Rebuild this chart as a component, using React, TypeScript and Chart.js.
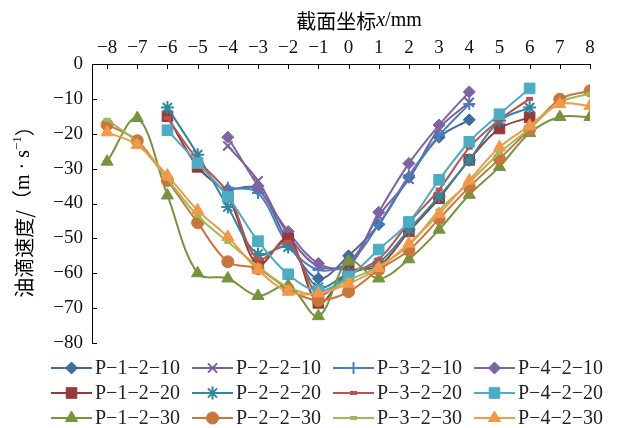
import React, { useEffect, useRef } from "react";
import { Chart, registerables } from "chart.js";
import { drawPoint } from "chart.js/helpers";

Chart.register(...registerables);

// ---------- data ----------
const xAll = [-8, -7, -6, -5, -4, -3, -2, -1, 0, 1, 2, 3, 4, 5, 6, 7, 8];
const x20 = [-6, -5, -4, -3, -2, -1, 0, 1, 2, 3, 4, 5, 6];
const x10 = [-4, -3, -2, -1, 0, 1, 2, 3, 4];

const P_1_2_10 = [-36, -36, -51, -61.5, -55, -46, -32.5, -21, -16];
const P_2_2_10 = [-23.5, -33.5, -49, -58, -57, -43.5, -33, -18.5, -11];
const P_3_2_10 = [-35.5, -37, -52, -59, -57, -46, -32, -20.5, -11.5];
const P_4_2_10 = [-21, -35, -48, -57.2, -58, -42.5, -28.5, -17.5, -8];

const P_1_2_20 = [-15, -29.5, -38, -57.5, -50, -68.5, -59.5, -58, -48, -38.5, -27.5, -18.5, -15.3];
const P_2_2_20 = [-12.5, -26, -41, -54.5, -52.5, -64, -60, -57, -47.5, -38, -27.5, -16.3, -12.5];
const P_3_2_20 = [-15.5, -27.5, -37, -56, -51, -66, -60.5, -56, -45.5, -36, -24, -16, -10];
const P_4_2_20 = [-19, -28.4, -38, -50.8, -60.3, -65, -61, -53.2, -45.3, -33.2, -22.3, -14.4, -7];

const P_1_2_30 = [-28, -15.5, -37.7, -60, -61.5, -66.5, -63.5, -72.3, -56.5, -61.5, -56, -47.5, -37.5, -29.5, -19.8, -15.2, -15.2];
const P_2_2_30 = [-17.4, -22, -33.4, -45.5, -56.7, -58.7, -64.5, -67.8, -65.3, -59, -53.4, -44.4, -35.3, -27.2, -18.7, -10.1, -7.7];
const P_3_2_30 = [-16, -22.5, -33, -43.5, -51, -58, -64, -66, -62, -58, -52, -42, -34, -25.5, -18.5, -11, -8.5];
const P_4_2_30 = [-19.6, -23.2, -32, -42, -49.6, -59, -65.3, -65.8, -63, -58.5, -51.5, -43, -33.4, -23.9, -17.7, -11.5, -12];

const seriesNames = [
  "P\u22121\u22122\u221210", "P\u22122\u22122\u221210", "P\u22123\u22122\u221210", "P\u22124\u22122\u221210",
  "P\u22121\u22122\u221220", "P\u22122\u22122\u221220", "P\u22123\u22122\u221220", "P\u22124\u22122\u221220",
  "P\u22121\u22122\u221230", "P\u22122\u22122\u221230", "P\u22123\u22122\u221230", "P\u22124\u22122\u221230",
];
const seriesValues = [
  P_1_2_10, P_2_2_10, P_3_2_10, P_4_2_10,
  P_1_2_20, P_2_2_20, P_3_2_20, P_4_2_20,
  P_1_2_30, P_2_2_30, P_3_2_30, P_4_2_30,
];
const seriesX = [x10, x10, x10, x10, x20, x20, x20, x20, xAll, xAll, xAll, xAll];

const xTicks = [-8, -7, -6, -5, -4, -3, -2, -1, 0, 1, 2, 3, 4, 5, 6, 7, 8];
const yTicks = [0, -10, -20, -30, -40, -50, -60, -70, -80];

// ---------- styles ----------
const colors = [
  "#3f6aa3", "#7a5ea0", "#4a7ebf", "#7f63a3",
  "#963a38", "#2f88a0", "#c0504d", "#4bacc6",
  "#77933c", "#c8763a", "#9bbb59", "#f79646",
];
const pointStyles = [
  "rectRot", "crossRot", "cross", "rectRot",
  "rect", "star", "line", "rect",
  "triangle", "circle", "line", "triangle",
];
const pointRadii = [6, 6.5, 6, 6, 7.5, 6.5, 3.5, 7.5, 7, 6, 3.5, 7];
const strokeOnly = ["crossRot", "cross", "star", "line"];

const SERIF = "'Liberation Serif', 'Times New Roman', 'Noto Sans CJK SC', serif";
const CJK = "'Noto Sans CJK SC', 'Liberation Serif', sans-serif";

const fmt = (v: number) => (v < 0 ? "\u2212" + Math.abs(v) : String(v));

const customPlugin = {
  id: "customDecor",
  afterDraw(chart: any) {
    const { ctx, chartArea, scales } = chart;
    ctx.save();
    // inward tick marks
    ctx.strokeStyle = "#000";
    ctx.lineWidth = 1;
    for (const v of xTicks) {
      const px = Math.round(scales.x.getPixelForValue(v)) + 0.5;
      ctx.beginPath();
      ctx.moveTo(px, chartArea.top);
      ctx.lineTo(px, chartArea.top + 5);
      ctx.stroke();
    }
    for (const v of yTicks) {
      const py = Math.round(scales.y.getPixelForValue(v)) + 0.5;
      ctx.beginPath();
      ctx.moveTo(chartArea.left, py);
      ctx.lineTo(chartArea.left + 5, py);
      ctx.stroke();
    }

    // x title
    ctx.fillStyle = "#000";
    ctx.textBaseline = "middle";
    ctx.textAlign = "left";
    const p1 = "截面坐标", p2 = "x", p3 = "/mm";
    ctx.font = "20px " + CJK;
    const w1 = ctx.measureText(p1).width;
    ctx.font = "italic 20px " + SERIF;
    const w2 = ctx.measureText(p2).width;
    ctx.font = "20px " + SERIF;
    const w3 = ctx.measureText(p3).width;
    let tx = 359 - (w1 + w2 + w3) / 2;
    const ty = 21;
    ctx.font = "20px " + CJK;
    ctx.fillText(p1, tx, ty);
    tx += w1;
    ctx.font = "italic 20px " + SERIF;
    ctx.fillText(p2, tx, ty);
    tx += w2;
    ctx.font = "20px " + SERIF;
    ctx.fillText(p3, tx, ty);

    // y title (rotated)
    ctx.save();
    ctx.translate(24, 207);
    ctx.rotate(-Math.PI / 2);
    const parts = [
      { t: "油滴速度/", f: "20px " + CJK, dy: 0 },
      { t: "\uFF08m \u00B7 s", f: "20px " + SERIF, dy: 0 },
      { t: "\u22121", f: "13px " + SERIF, dy: -6 },
      { t: "\uFF09", f: "20px " + CJK, dy: 0 },
    ];
    let total = 0;
    const widths: number[] = [];
    for (const p of parts) {
      ctx.font = p.f;
      const w = ctx.measureText(p.t).width;
      widths.push(w);
      total += w;
    }
    let cx = -total / 2;
    parts.forEach((p, i) => {
      ctx.font = p.f;
      ctx.fillText(p.t, cx, p.dy);
      cx += widths[i];
    });
    ctx.restore();

    // legend
    ctx.font = "20px " + SERIF;
    ctx.textBaseline = "middle";
    for (let i = 0; i < seriesNames.length; i++) {
      const col = i % 4;
      const row = Math.floor(i / 4);
      const x0 = 51 + col * 141;
      const y0 = 368 + row * 25;
      ctx.strokeStyle = colors[i];
      ctx.fillStyle = colors[i];
      ctx.lineWidth = 2;
      ctx.beginPath();
      ctx.moveTo(x0, y0);
      ctx.lineTo(x0 + 41, y0);
      ctx.stroke();
      const ps = pointStyles[i];
      const so = strokeOnly.includes(ps);
      ctx.lineWidth = ps === "line" ? 4 : so ? 2 : 1;
      drawPoint(ctx, { pointStyle: ps, radius: pointRadii[i], rotation: 0, borderWidth: ctx.lineWidth }, x0 + 20.5, y0);
      ctx.fillStyle = "#222";
      ctx.fillText(seriesNames[i], x0 + 44, y0 + 1);
    }
    ctx.restore();
  },
};

export default function App() {
  const ref = useRef<HTMLCanvasElement | null>(null);
  useEffect(() => {
    const canvas = ref.current;
    if (!canvas) return;
    const datasets = seriesNames.map((name, i) => {
      const ps = pointStyles[i];
      const so = strokeOnly.includes(ps);
      return {
        label: name,
        data: seriesX[i].map((x, j) => ({ x, y: seriesValues[i][j] })),
        borderColor: colors[i],
        backgroundColor: colors[i],
        borderWidth: 2,
        pointStyle: ps,
        pointRadius: pointRadii[i],
        pointBorderWidth: ps === "line" ? 4 : so ? 2 : 1,
        pointBorderColor: colors[i],
        pointBackgroundColor: colors[i],
        tension: 0.35,
        order: 11 - i,
        fill: false,
      };
    });
    const chart = new Chart(canvas, {
      type: "line",
      data: { datasets },
      options: {
        animation: false,
        responsive: false,
        maintainAspectRatio: false,
        layout: { padding: { left: 0, top: 0, right: 32, bottom: 85 } },
        plugins: { legend: { display: false }, tooltip: { enabled: false } },
        scales: {
          x: {
            type: "linear",
            position: "top",
            min: -8.5,
            max: 8,
            afterBuildTicks: (scale: any) => {
              scale.ticks = xTicks.map((v) => ({ value: v }));
            },
            afterFit: (scale: any) => {
              scale.height = 64;
            },
            grid: { display: false, drawTicks: false },
            border: { display: true, color: "#000", width: 1 },
            ticks: {
              padding: 5,
              autoSkip: false,
              maxRotation: 0,
              color: "#111",
              font: { family: SERIF, size: 19 },
              callback: (v: any) => fmt(Number(v)),
            },
          },
          y: {
            type: "linear",
            min: -80,
            max: 0,
            afterBuildTicks: (scale: any) => {
              scale.ticks = yTicks.map((v) => ({ value: v }));
            },
            afterFit: (scale: any) => {
              scale.width = 92;
            },
            grid: { display: false, drawTicks: false },
            border: { display: true, color: "#000", width: 1 },
            ticks: {
              padding: 9,
              color: "#111",
              font: { family: SERIF, size: 19 },
              callback: (v: any) => fmt(Number(v)),
            },
          },
        },
      },
      plugins: [customPlugin],
    } as any);
    return () => chart.destroy();
  }, []);
  return (
    <div style={{ position: "absolute", left: 0, top: 0, width: 622, height: 428, background: "#fff" }}>
      <canvas ref={ref} width={622} height={428} style={{ width: 622, height: 428, display: "block" }} />
    </div>
  );
}
